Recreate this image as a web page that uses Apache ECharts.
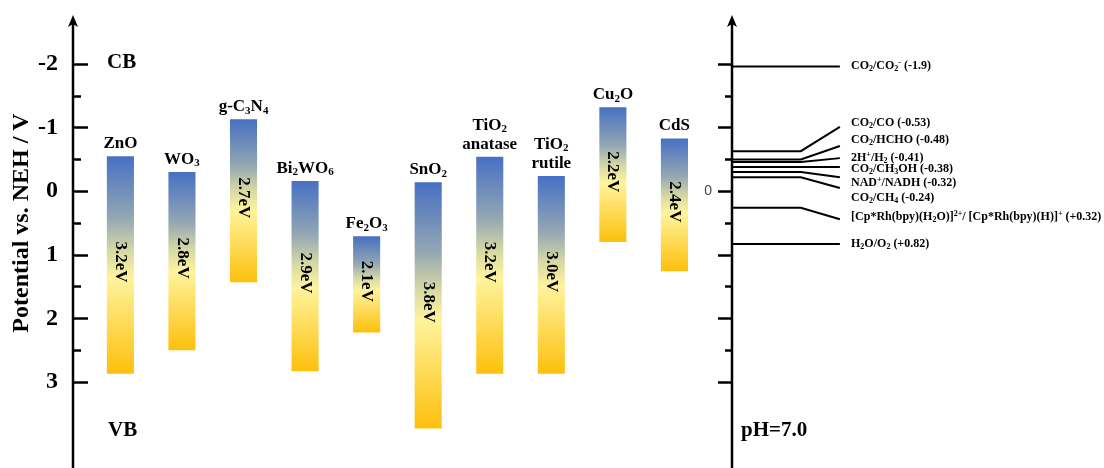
<!DOCTYPE html>
<html>
<head>
<meta charset="utf-8">
<script src="https://cdn.jsdelivr.net/npm/echarts@6/dist/echarts.min.js"></script>
<style>
html, body { margin: 0; padding: 0; background: #fff; }
#bandChart { width: 1104px; height: 468px; }
</style>
</head>
<body>
<div id="bandChart"></div>
<script>
// band edges vs NHE (negative = up)
var materials = ['ZnO', 'WO{s|3}', 'g-C{s|3}N{s|4}', 'Bi{s|2}WO{s|6}', 'Fe{s|2}O{s|3}',
    'SnO{s|2}', 'TiO{s|2}\nanatase', 'TiO{s|2}\nrutile', 'Cu{s|2}O', 'CdS'];
var cbEdge = [-0.55, -0.30, -1.13, -0.16, 0.71, -0.14, -0.54, -0.24, -1.32, -0.83];
var vbEdge = [2.87, 2.50, 1.43, 2.83, 2.22, 3.73, 2.87, 2.87, 0.80, 1.26];
var gapText = ['3.2eV', '2.8eV', '2.7eV', '2.9eV', '2.1eV', '3.8eV', '3.2eV', '3.0eV', '2.2eV', '2.4eV'];

// redox couples at pH 7
var couples = [
    'CO{s|2}/CO{s|2}{p|-} (-1.9)',
    'CO{s|2}/CO (-0.53)',
    'CO{s|2}/HCHO (-0.48)',
    '2H{p|+}/H{s|2} (-0.41)',
    'CO{s|2}/CH{s|3}OH (-0.38)',
    'NAD{p|+}/NADH (-0.32)',
    'CO{s|2}/CH{s|4} (-0.24)',
    '[Cp*Rh(bpy)(H{s|2}O)]{p|2+}/ [Cp*Rh(bpy)(H)]{p|+} (+0.32)',
    'H{s|2}O/O{s|2} (+0.82)'
];
var coupleLevel = [-1.96, -0.63, -0.50, -0.46, -0.38, -0.30, -0.22, 0.26, 0.83];
var coupleLeaderEnd = [-1.96, -1.01, -0.71, -0.52, -0.38, -0.22, -0.05, 0.44, 0.83];
var coupleLabelAt = [-1.97, -1.08, -0.80, -0.53, -0.35, -0.13, 0.11, 0.41, 0.83];

var serif = '"Liberation Serif", "Times New Roman", serif';

var bandStops = [
    {offset: 0, color: '#4670c3'},
    {offset: 0.28, color: '#93a6b3'},
    {offset: 0.44, color: '#d8daa4'},
    {offset: 0.56, color: '#fff39d'},
    {offset: 1, color: '#fdc00c'}
];

var chart = echarts.init(document.getElementById('bandChart'));

function renderBand(params, api) {
    var i = params.dataIndex;
    var x = api.value(0);
    var top = api.coord([x, api.value(1)]);
    var bottom = api.coord([x, api.value(2)]);
    var w = api.size([1, 0])[0] * 0.44;
    return {
        type: 'group',
        children: [{
            type: 'rect',
            shape: {x: top[0] - w / 2, y: top[1], width: w, height: bottom[1] - top[1]},
            style: {fill: new echarts.graphic.LinearGradient(0, 0, 0, 1, bandStops)},
            textContent: {
                style: {
                    text: materials[i],
                    fontFamily: serif, fontWeight: 'bold', fontSize: 17, lineHeight: 19,
                    fill: '#000', align: 'center',
                    rich: {s: {fontFamily: serif, fontWeight: 'bold', fontSize: 11, lineHeight: 10, verticalAlign: 'bottom'}}
                }
            },
            textConfig: {position: 'top', distance: 3}
        }, {
            type: 'text',
            x: top[0],
            y: (top[1] + bottom[1]) / 2 - 3,
            rotation: -Math.PI / 2,
            style: {
                text: gapText[i], fontFamily: serif, fontWeight: 'bold', fontSize: 17,
                fill: '#000', align: 'center', verticalAlign: 'middle'
            }
        }]
    };
}

// knee / leader end / label start, in right-panel x units
var kneeX = 0.185, endX = 0.29, labelX = 0.32;

function renderCouple(params, api) {
    var i = params.dataIndex;
    var p0 = api.coord([0, api.value(0)]);
    var p1 = api.coord([kneeX, api.value(0)]);
    var p2 = api.coord([endX, api.value(1)]);
    var lab = api.coord([labelX, api.value(2)]);
    return {
        type: 'group',
        children: [{
            type: 'polyline',
            shape: {points: [p0, p1, p2]},
            style: {stroke: '#000', lineWidth: 2, fill: null}
        }, {
            type: 'text',
            x: lab[0], y: lab[1],
            style: {
                text: couples[i], fontFamily: serif, fontWeight: 'bold', fontSize: 12, lineHeight: 14,
                fill: '#000', align: 'left', verticalAlign: 'middle',
                rich: {
                    s: {fontFamily: serif, fontWeight: 'bold', fontSize: 8, lineHeight: 8, verticalAlign: 'bottom'},
                    p: {fontFamily: serif, fontWeight: 'bold', fontSize: 8, lineHeight: 8, verticalAlign: 'top'}
                }
            }
        }]
    };
}

// long axis line with arrow head, drawn through the axis scale
function renderArrowAxis(params, api) {
    var top = api.coord([api.value(0), api.value(1)]);
    var bottom = api.coord([api.value(0), api.value(2)]);
    return {
        type: 'group',
        children: [{
            type: 'line',
            shape: {x1: top[0], y1: top[1] + 8, x2: bottom[0], y2: bottom[1]},
            style: {stroke: '#000', lineWidth: 2.5}
        }, {
            type: 'polygon',
            shape: {points: [[top[0], top[1]], [top[0] - 5, top[1] + 12], [top[0], top[1] + 9], [top[0] + 5, top[1] + 12]]},
            style: {fill: '#000'}
        }]
    };
}

var option = {
    animation: false,
    backgroundColor: '#fff',
    grid: [
        {left: 73, top: 64, width: 663, bottom: 86, outerBoundsMode: 'none'},
        {left: 732, top: 64, right: 0, bottom: 86, outerBoundsMode: 'none'}
    ],
    xAxis: [
        {gridIndex: 0, type: 'value', min: -0.77, max: 10, show: false},
        {gridIndex: 1, type: 'value', min: 0, max: 1, show: false}
    ],
    yAxis: [{
        gridIndex: 0, type: 'value', inverse: true, min: -2, max: 3, interval: 1,
        name: 'Potential vs. NEH / V', nameLocation: 'middle', nameGap: 39, nameMoveOverlap: false,
        nameTextStyle: {fontFamily: serif, fontWeight: 'bold', fontSize: 24, color: '#000'},
        axisLine: {show: false, onZero: false},
        axisTick: {show: true, inside: true, length: 15, lineStyle: {color: '#000', width: 2.5}},
        minorTick: {show: true, splitNumber: 2, length: 8, lineStyle: {color: '#000', width: 2.5}},
        axisLabel: {fontFamily: serif, fontWeight: 'bold', fontSize: 24, color: '#000', margin: 15},
        splitLine: {show: false}
    }, {
        gridIndex: 1, type: 'value', inverse: true, min: -2, max: 3, interval: 1,
        axisLine: {show: false, onZero: false},
        axisTick: {show: true, inside: false, length: 14, lineStyle: {color: '#000', width: 2.5}},
        minorTick: {show: true, splitNumber: 2, length: 7, lineStyle: {color: '#000', width: 2.5}},
        axisLabel: {
            fontFamily: '"Liberation Sans", Arial, sans-serif', fontSize: 14, color: '#444', margin: 20,
            formatter: function (v) { return v === 0 ? '0' : ''; }
        },
        splitLine: {show: false}
    }],
    series: [{
        type: 'custom',
        name: 'bands',
        xAxisIndex: 0, yAxisIndex: 0,
        renderItem: renderBand,
        encode: {x: 0, y: [1, 2]},
        data: cbEdge.map(function (cb, i) { return [i, cb, vbEdge[i]]; })
    }, {
        type: 'custom',
        name: 'couples',
        xAxisIndex: 1, yAxisIndex: 1,
        renderItem: renderCouple,
        encode: {y: [0, 1, 2]},
        data: coupleLevel.map(function (v, i) { return [v, coupleLeaderEnd[i], coupleLabelAt[i]]; })
    }, {
        type: 'custom',
        name: 'leftAxisLine',
        xAxisIndex: 0, yAxisIndex: 0,
        renderItem: renderArrowAxis,
        data: [[-0.77, -2.77, 4.6]]
    }, {
        type: 'custom',
        name: 'rightAxisLine',
        xAxisIndex: 1, yAxisIndex: 1,
        renderItem: renderArrowAxis,
        data: [[0, -2.77, 4.6]]
    }],
    graphic: [
        {type: 'text', left: 107, top: 52, style: {text: 'CB', font: 'bold 21px ' + serif, fill: '#000'}},
        {type: 'text', left: 108, top: 420, style: {text: 'VB', font: 'bold 21px ' + serif, fill: '#000'}},
        {type: 'text', left: 741, top: 420, style: {text: 'pH=7.0', font: 'bold 21px ' + serif, fill: '#000'}}
    ]
};

chart.setOption(option);
</script>
</body>
</html>
